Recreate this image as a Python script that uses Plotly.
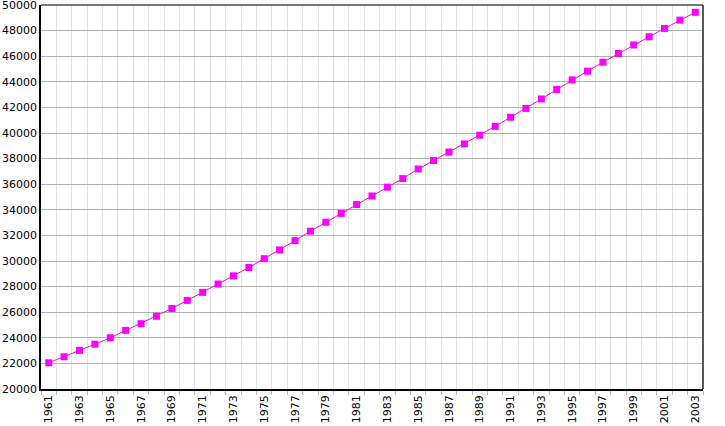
"""Population growth line chart, 1961-2003"""

import plotly.graph_objects as go

years = list(range(1961, 2004))
population = [
    22050, 22520, 23020, 23500, 24000, 24580, 25100, 25680, 26290, 26920,
    27550, 28200, 28840, 29490, 30180, 30870, 31590, 32330, 33030, 33720,
    34410, 35080, 35770, 36440, 37190, 37850, 38510, 39150, 39830, 40520,
    41230, 41920, 42660, 43400, 44150, 44830, 45530, 46210, 46880, 47520,
    48170, 48820, 49430,
]
x_tick_years = list(range(1961, 2004, 2))
x_tick_labels = [str(y) for y in x_tick_years]
y_ticks = list(range(20000, 50001, 2000))
y_tick_labels = [str(v) for v in y_ticks]

fig = go.Figure()
fig.add_trace(go.Scatter(
    x=years,
    y=population,
    mode="lines+markers",
    line=dict(color="#ff00ff", width=1),
    marker=dict(symbol="square", size=7, color="#ff00ff"),
    showlegend=False,
))

fig.update_layout(
    width=725,
    height=426,
    margin=dict(l=41, r=22, t=5, b=37, autoexpand=False),
    paper_bgcolor="white",
    plot_bgcolor="white",
    font=dict(family="DejaVu Sans", size=11, color="black"),
    xaxis=dict(
        range=[1960.5, 2003.5],
        tickvals=x_tick_years,
        ticktext=x_tick_labels,
        tickangle=-90,
        showgrid=False,
        ticks="",
        showline=True,
        linecolor="black",
        linewidth=1.5,
        zeroline=False,
        automargin=False,
        minor=dict(
            tick0=1960.5,
            dtick=1,
            showgrid=True,
            gridcolor="#e3e3e3",
            gridwidth=1,
            ticks="outside",
            ticklen=4,
            tickcolor="#bbbbbb",
        ),
    ),
    yaxis=dict(
        range=[19999, 50001],
        tickvals=y_ticks,
        ticktext=y_tick_labels,
        showgrid=True,
        gridcolor="#b0b0b0",
        gridwidth=1,
        ticks="",
        showline=True,
        linecolor="black",
        linewidth=1.5,
        zeroline=False,
        automargin=False,
        ticklabeloverflow="allow",
    ),
    shapes=[
        dict(type="line", xref="paper", yref="paper", x0=0, x1=1, y0=1, y1=1,
             line=dict(color="#777777", width=2)),
        dict(type="line", xref="paper", yref="paper", x0=1, x1=1, y0=0, y1=1,
             line=dict(color="#222222", width=1.5)),
    ],
)

# the page body has an 8px default margin; drop it so the figure fills the window
fig.write_html(
    "out.html",
    config={"displayModeBar": False},
    post_script="document.body.style.margin = '0';",
)
